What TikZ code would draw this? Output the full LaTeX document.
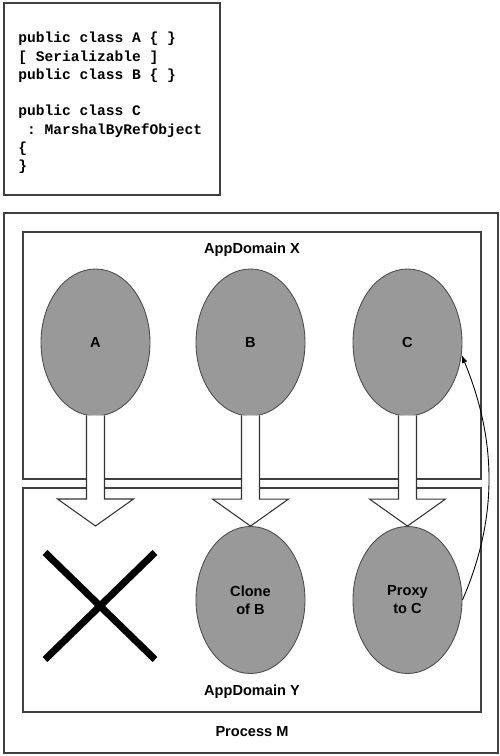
\documentclass[tikz,border=0pt]{standalone}
\usepackage{fontspec}
\setmainfont{Liberation Sans}
\setmonofont{Liberation Mono}
\usepackage{tikz}
\usetikzlibrary{calc}
\usetikzlibrary{arrows.meta, positioning, shapes.geometric}

% hollow block arrow from the bottom of #1 down to the point #2
\newcommand{\blockarrow}[2]{%
	\filldraw[hollowarrow] ($(#1)+(-0.18,0.02)$) -- ($(#2)+(-0.18,0.54)$) -- ($(#2)+(-0.76,0.54)$) -- (#2)
		-- ($(#2)+(0.76,0.54)$) -- ($(#2)+(0.18,0.54)$) -- ($(#1)+(0.18,0.02)$);}

\begin{document}
\begin{tikzpicture}[
	box/.style={draw=black!75, line width=0.9pt},
	obj/.style={ellipse, draw=black!70, line width=0.5pt, fill=black!40, minimum width=2.18cm, minimum height=2.94cm, inner sep=0pt, align=center, font=\fontsize{8.3}{10.2}\selectfont\bfseries},
	lbl/.style={font=\fontsize{8.3}{10}\selectfont\bfseries},
	codetext/.style={anchor=north west, inner sep=0pt, align=left, font=\fontsize{8.3}{10.36}\selectfont\ttfamily\bfseries},
	hollowarrow/.style={draw=black!80, fill=white, line width=0.6pt},
	refline/.style={-{Latex[length=4.5pt,width=3.2pt]}, line width=0.5pt},
	cross/.style={line width=4pt}
]
	\useasboundingbox (0,0) rectangle (10,15.12);

	% Code
	\draw[box] (0.08,11.22) rectangle (4.40,15.06);
	\node[codetext] (code) at (0.36,14.48) {public class A \{ \}\\
		{[} Serializable ]\\
		public class B \{ \}\\[10.4pt]
		public class C\\
		~: MarshalByRefObject\\
		\{\\
		\}};

	% Boxes
	\draw[box] (0.08,0.06) rectangle (9.96,10.86);
	\draw[box] (0.46,5.54) rectangle (9.62,10.48);
	\draw[box] (0.46,0.88) rectangle (9.62,5.36);

	% Labels
	\node[lbl] (appx) at (5.04,10.12) {AppDomain X};
	\node[lbl] (appy) at (5.04,1.28) {AppDomain Y};
	\node[lbl] (procm) at (5.04,0.48) {Process M};

	% Objects
	\node[obj] (a) at (1.91,8.27) {A};
	\node[obj] (b) at (5.01,8.27) {B};
	\node[obj] (c) at (8.15,8.27) {C};
	\node[obj] (cloneb) at (5.01,3.12) {Clone\\of B};
	\node[obj] (proxyc) at (8.15,3.12) {Proxy\\to C};

	% Arrows
	\coordinate (atip) at (1.91,4.60);
	\blockarrow{a.south}{atip}
	\blockarrow{b.south}{cloneb.north}
	\blockarrow{c.south}{proxyc.north}

	% Cross
	\coordinate (gone) at (2.00,3.00);
	\draw[cross] ($(gone)+(-1.10,1.07)$) -- ($(gone)+(1.10,-1.07)$);
	\draw[cross] ($(gone)+(-1.10,-1.07)$) -- ($(gone)+(1.10,1.07)$);

	% Reference
	\draw[refline] (proxyc.east) .. controls +(0.72,1.66) and +(0.7,-1.7) .. (c.-13);
\end{tikzpicture}
\end{document}
